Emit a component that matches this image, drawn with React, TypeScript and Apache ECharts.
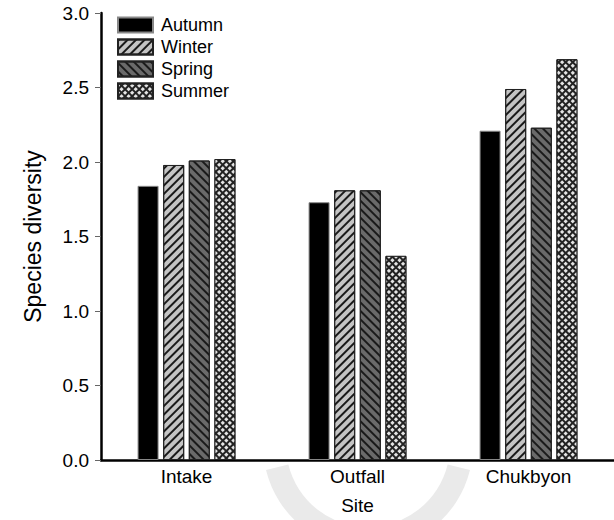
import React, { useEffect, useRef } from "react";
import * as echarts from "echarts";

const sites = ["Intake", "Outfall", "Chukbyon"];
const seasons = ["Autumn", "Winter", "Spring", "Summer"];
const autumn = [1.84, 1.73, 2.21];
const winter = [1.98, 1.81, 2.49];
const spring = [2.01, 1.81, 2.23];
const summer = [2.02, 1.37, 2.69];
const yTicks = [0, 0.5, 1.0, 1.5, 2.0, 2.5, 3.0];

const FONT = "'Liberation Sans', Arial, sans-serif";

export default function App() {
  const ref = useRef<HTMLDivElement>(null);
  useEffect(() => {
    if (!ref.current) return;
    const chart = echarts.init(ref.current, undefined, { renderer: "svg" });
    const values = [autumn, winter, spring, summer];
    const styles: any[] = [
      { color: "#000", borderColor: "#888", borderWidth: 1 },
      {
        color: "#c4c4c4",
        borderColor: "#222",
        borderWidth: 1,
        decal: {
          symbol: "rect",
          symbolSize: 1,
          rotation: -Math.PI / 4,
          dashArrayX: [1, 0],
          dashArrayY: [1.4, 3.6],
          color: "#1a1a1a",
        },
      },
      {
        color: "#6a6a6a",
        borderColor: "#222",
        borderWidth: 1,
        decal: {
          symbol: "rect",
          symbolSize: 1,
          rotation: Math.PI / 4,
          dashArrayX: [1, 0],
          dashArrayY: [1.4, 3.6],
          color: "#1a1a1a",
        },
      },
      {
        color: "#222",
        borderColor: "#222",
        borderWidth: 1,
        decal: {
          symbol: "rect",
          symbolSize: 1,
          rotation: Math.PI / 4,
          dashArrayX: [3, 1.4],
          dashArrayY: [3, 1.4],
          color: "#e4e4e4",
        },
      },
    ];
    chart.setOption({
      animation: false,
      textStyle: { fontFamily: FONT },
      graphic: [
        {
          type: "sector",
          z: -10,
          silent: true,
          shape: {
            cx: 368,
            cy: 445,
            r: 105,
            r0: 82,
            startAngle: 0.24,
            endAngle: Math.PI - 0.24,
            clockwise: true,
          },
          style: { fill: "#eaeaea" },
        },
      ],
      grid: { left: 101, right: 0, top: 13, bottom: 60, containLabel: false },
      legend: {
        orient: "vertical",
        left: 117,
        top: 15,
        padding: 0,
        icon: "rect",
        itemWidth: 35,
        itemHeight: 15,
        itemGap: 2,
        data: seasons,
        textStyle: { fontFamily: FONT, fontSize: 18, lineHeight: 20, color: "#000", padding: [0, 0, 0, 3] },
      },
      xAxis: {
        type: "category",
        data: sites,
        name: "Site",
        nameLocation: "middle",
        nameGap: 36,
        nameTextStyle: { fontFamily: FONT, fontSize: 19, color: "#000" },
        axisLine: { lineStyle: { color: "#000", width: 2.5 } },
        axisTick: { show: false },
        axisLabel: { fontFamily: FONT, fontSize: 19, color: "#000", margin: 7 },
      },
      yAxis: {
        type: "value",
        min: yTicks[0],
        max: yTicks[yTicks.length - 1],
        interval: 0.5,
        name: "Species diversity",
        nameLocation: "middle",
        nameGap: 57,
        nameTextStyle: { fontFamily: FONT, fontSize: 23, color: "#000" },
        splitLine: { show: false },
        axisLine: { show: true, lineStyle: { color: "#000", width: 2.5 } },
        axisTick: { show: true, length: 6, lineStyle: { color: "#666", width: 1 } },
        axisLabel: {
          fontFamily: FONT,
          fontSize: 19,
          color: "#000",
          margin: 12,
          formatter: (v: number) => v.toFixed(1),
        },
      },
      series: seasons.map((name, i) => ({
        name,
        type: "bar",
        data: values[i],
        barWidth: 21,
        barGap: "22%",
        itemStyle: styles[i],
      })),
    });
    return () => chart.dispose();
  }, []);
  return <div ref={ref} style={{ width: 614, height: 520, position: "absolute", left: 0, top: 0 }} />;
}
